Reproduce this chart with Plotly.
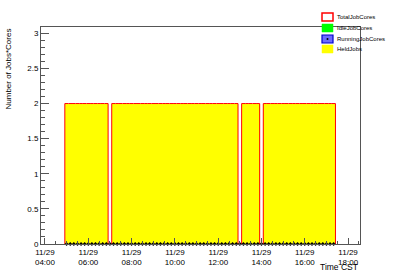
import plotly.graph_objects as go
import pandas as pd

# ---- data (10-minute bins, 11/29) ----
bin_start = "2023-11-29 04:55"
n_bins = 75
held_jobs = [2, 2, 2, 2, 2, 2, 2, 2, 2, 2, 2, 2, 0, 2, 2, 2, 2, 2, 2, 2, 2, 2,
             2, 2, 2, 2, 2, 2, 2, 2, 2, 2, 2, 2, 2, 2, 2, 2, 2, 2, 2, 2, 2, 2,
             2, 2, 2, 2, 0, 2, 2, 2, 2, 2, 0, 2, 2, 2, 2, 2, 2, 2, 2, 2, 2, 2,
             2, 2, 2, 2, 2, 2, 2, 2, 2]
total_job_cores = list(held_jobs)
running_job_cores = [0] * n_bins
idle_job_cores = [0] * n_bins
legend_names = ["TotalJobCores", "IdleJobCores", "RunningJobCores", "HeldJobs"]
tick_vals = ["2023-11-29 04:00", "2023-11-29 06:00", "2023-11-29 08:00", "2023-11-29 10:00",
             "2023-11-29 12:00", "2023-11-29 14:00", "2023-11-29 16:00", "2023-11-29 18:00"]
tick_text = ["11/29<br>04:00", "11/29<br>06:00", "11/29<br>08:00", "11/29<br>10:00",
             "11/29<br>12:00", "11/29<br>14:00", "11/29<br>16:00", "11/29<br>18:00"]

starts = pd.date_range(bin_start, periods=n_bins, freq="10min")
centers = starts + pd.Timedelta(minutes=5)
edges_x = list(starts) + [starts[-1] + pd.Timedelta(minutes=10)]
step_y = total_job_cores + [0]

FONT = "Liberation Sans, Arial, sans-serif"
W, H = 400, 271
L, R, T, B = 41, 360, 27, 244

fig = go.Figure()
fig.add_trace(go.Bar(x=centers, y=held_jobs, width=600000, marker=dict(color="#ffff00", line=dict(width=0)),
                     showlegend=False))
fig.add_trace(go.Scatter(x=[starts[0]] + edges_x, y=[0] + step_y, mode="lines",
                         line=dict(color="#ff0000", width=1, shape="hv"), showlegend=False))
fig.add_trace(go.Scatter(x=centers, y=running_job_cores, mode="markers",
                         marker=dict(symbol="diamond", size=3, color="black"), showlegend=False,
                         cliponaxis=False))

# ---- manual legend (ROOT style) ----
def px(x):
    return (x - L) / (R - L)

def py(y):
    return (B - y) / (B - T)

rows = [17, 28, 39, 49]
styles = [dict(fill="white", line="#ff0000", lw=1.5),
          dict(fill="#00ff00", line="#00ff00", lw=0.5),
          dict(fill="#6b6bff", line="#0000cc", lw=1.2),
          dict(fill="#ffff00", line="#ffff00", lw=0.5)]
for yy, name, st in zip(rows, legend_names, styles):
    fig.add_shape(type="rect", xref="paper", yref="paper",
                  x0=px(322), x1=px(333), y0=py(yy + 4), y1=py(yy - 4),
                  fillcolor=st["fill"], line=dict(color=st["line"], width=st["lw"]))
    fig.add_annotation(xref="paper", yref="paper", x=px(335), y=py(yy), text=name,
                       showarrow=False, xanchor="left", yanchor="middle",
                       font=dict(family=FONT, size=6, color="black"))
fig.add_shape(type="circle", xref="paper", yref="paper",
              x0=px(326.5), x1=px(328.5), y0=py(40), y1=py(38),
              fillcolor="black", line=dict(color="black", width=0))

fig.add_annotation(xref="paper", yref="paper", x=px(8), y=1.0, text="Number of Jobs*Cores",
                   textangle=-90, showarrow=False, xanchor="center", yanchor="top",
                   font=dict(family=FONT, size=8, color="black"))
fig.add_annotation(xref="paper", yref="paper", x=1.0, y=py(267), text="Time CST",
                   showarrow=False, xanchor="right", yanchor="middle",
                   font=dict(family=FONT, size=8.5, color="black"))

fig.update_layout(
    width=W, height=H,
    margin=dict(l=L, r=W - R, t=T, b=H - B, pad=0, autoexpand=False),
    paper_bgcolor="white", plot_bgcolor="white",
    bargap=0, showlegend=False,
    font=dict(family=FONT, size=8, color="black"),
)
fig.update_xaxes(
    type="date", range=["2023-11-29 03:49", "2023-11-29 18:33"],
    tickmode="array", tickvals=tick_vals, ticktext=tick_text,
    ticks="inside", ticklen=6, tickcolor="#555555", tickwidth=1,
    minor=dict(dtick=1800000, ticks="inside", ticklen=3, tickcolor="#555555"),
    showline=True, linecolor="#555555", linewidth=1, mirror=True, automargin=False,
    showgrid=False, zeroline=False, tickfont=dict(size=8, family=FONT),
)
fig.update_yaxes(
    range=[0, 3.09], tickmode="array", tickvals=[0, 0.5, 1, 1.5, 2, 2.5, 3],
    ticktext=["0", "0.5", "1", "1.5", "2", "2.5", "3"],
    ticks="inside", ticklen=8, tickcolor="#555555", tickwidth=1,
    minor=dict(dtick=0.1, ticks="inside", ticklen=4, tickcolor="#555555"),
    showline=True, linecolor="#555555", linewidth=1, mirror=True, automargin=False,
    showgrid=False, zeroline=False, tickfont=dict(size=8, family=FONT),
)

fig.write_html("out.html")
